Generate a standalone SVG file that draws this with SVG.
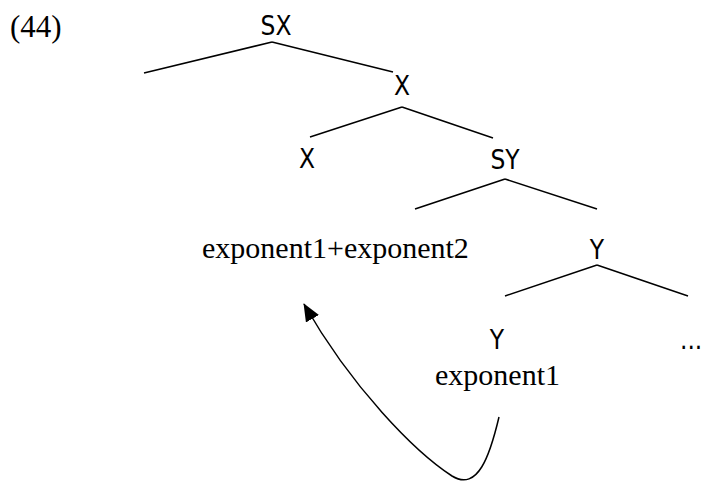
<svg xmlns="http://www.w3.org/2000/svg" width="702" height="481" viewBox="0 0 702 481">
<style>
.s{font-family:"DejaVu Sans Condensed","DejaVu Sans",sans-serif;font-size:26px;fill:#000;text-anchor:middle}
.r{font-family:"Liberation Serif","Times New Roman",serif;font-size:30px;fill:#000}
.e{stroke:#000;stroke-width:1.5;fill:none}
</style>
<defs>
<marker id="ah" viewBox="0 0 18 15" refX="17" refY="7.5" markerWidth="18" markerHeight="15" markerUnits="userSpaceOnUse" orient="auto">
<path d="M0,0 L18,7.5 L0,15 z" fill="#000"/>
</marker>
</defs>
<rect width="702" height="481" fill="#fff"/>
<text class="r" x="10" y="37" style="font-size:31px">(44)</text>
<g id="connectors">
<line class="e" x1="272" y1="42" x2="144" y2="73"/>
<line class="e" x1="272" y1="42" x2="393" y2="72"/>
<line class="e" x1="402" y1="107" x2="310" y2="137"/>
<line class="e" x1="402" y1="107" x2="493" y2="138"/>
<line class="e" x1="505" y1="179" x2="415" y2="209"/>
<line class="e" x1="505" y1="179" x2="597" y2="209"/>
<line class="e" x1="597" y1="265" x2="505" y2="296"/>
<line class="e" x1="597" y1="265" x2="688" y2="296"/>
<path class="e" d="M499,417 C490,455 478,492 452,476 C415,452 352,388 304,304" marker-end="url(#ah)"/>
</g>
<g id="n-sx"><text class="s" x="276" y="35">SX</text></g>
<g id="n-x1"><text class="s" x="402" y="95">X</text></g>
<g id="n-x2"><text class="s" x="307" y="168">X</text></g>
<g id="n-sy"><text class="s" x="505" y="169">SY</text></g>
<g id="n-exp12"><text class="r" x="202" y="258">exponent1+exponent2</text></g>
<g id="n-y1"><text class="s" x="597" y="259">Y</text></g>
<g id="n-y2"><text class="s" x="497" y="349">Y</text></g>
<g id="n-dots"><text class="s" x="680" y="349" style="text-anchor:start">...</text></g>
<g id="n-exp1"><text class="r" x="435" y="385">exponent1</text></g>
</svg>
